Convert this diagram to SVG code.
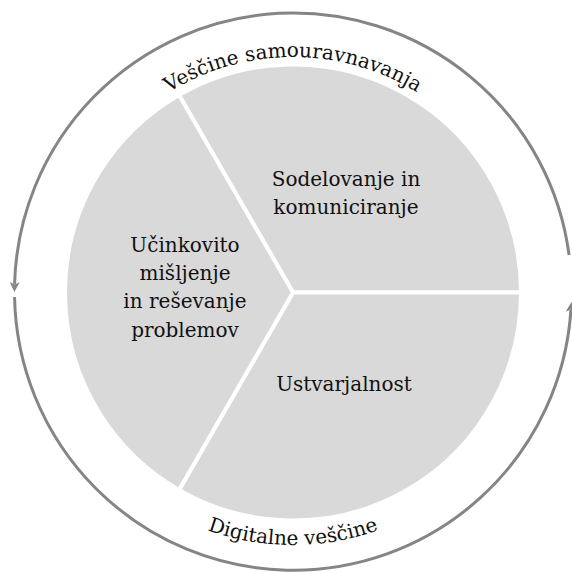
<svg xmlns="http://www.w3.org/2000/svg" width="572" height="572" viewBox="0 0 572 572">
<style>
.sector{fill:#d9d9d9;stroke:#ffffff;stroke-width:4;stroke-linejoin:miter}
.lbl{font-family:"DejaVu Serif","Liberation Serif",serif;font-size:20px;fill:#111111;text-anchor:middle}
.ring{fill:none;stroke:#858585;stroke-width:3}
</style>
<defs>
<marker id="arr" viewBox="0 0 10 10" refX="2" refY="5" markerWidth="10" markerHeight="10" markerUnits="userSpaceOnUse" orient="auto">
<path d="M0,0 L10,5 L0,10 L2.5,5 z" fill="#858585"/>
</marker>
<path id="topPath" d="M58,292 A235,235 0 0 1 528,292"/>
<path id="botPath" d="M40,292 A253,253 0 0 0 546,292"/>
</defs>
<g id="connectors">
<path class="ring" d="M569.1,255 A278.5,278.5 0 0 0 14.6,284" marker-end="url(#arr)"/>
<path class="ring" d="M14.55,297 A278.5,278.5 0 0 0 570.9,310" marker-end="url(#arr)"/>
</g>
<g id="ring-labels">
<text class="lbl"><textPath href="#topPath" startOffset="50%">Veščine samouravnavanja</textPath></text>
<text class="lbl"><textPath href="#botPath" startOffset="50%">Digitalne veščine</textPath></text>
</g>
<g id="node-sodelovanje">
<path class="sector" d="M293,292.5 L179,95.05 A228,228 0 0 1 521,292.5 Z"/>
<text class="lbl" x="346" y="186">Sodelovanje in</text>
<text class="lbl" x="346" y="214">komuniciranje</text>
</g>
<g id="node-ustvarjalnost">
<path class="sector" d="M293,292.5 L521,292.5 A228,228 0 0 1 179,489.95 Z"/>
<text class="lbl" x="344" y="391">Ustvarjalnost</text>
</g>
<g id="node-ucinkovito">
<path class="sector" d="M293,292.5 L179,489.95 A228,228 0 0 1 179,95.05 Z"/>
<text class="lbl" x="185" y="252">Učinkovito</text>
<text class="lbl" x="185" y="280">mišljenje</text>
<text class="lbl" x="185" y="308">in reševanje</text>
<text class="lbl" x="185" y="337">problemov</text>
</g>
</svg>
